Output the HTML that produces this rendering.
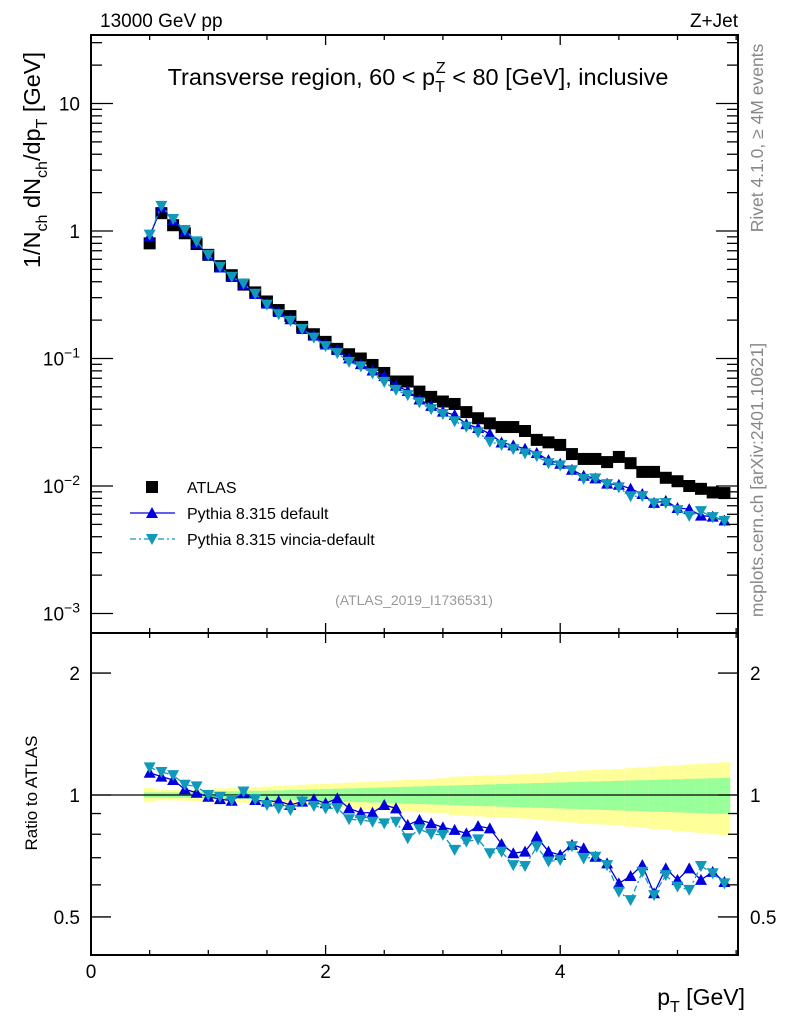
<!DOCTYPE html>
<html><head><meta charset="utf-8"><style>
html,body{margin:0;padding:0;background:#fff;}
svg{display:block;font-family:"Liberation Sans",Arial,sans-serif;}
</style></head><body>
<svg id="c" width="786" height="1024" viewBox="0 0 786 1024" xmlns="http://www.w3.org/2000/svg">
<rect x="0" y="0" width="786" height="1024" fill="#fff"/>
<g id="bands"></g>
<g id="marks"></g>
<g id="axes" stroke="#000" fill="none"></g>
<text x="100" y="27" font-size="19">13000 GeV pp</text>
<text x="738" y="27" font-size="19" text-anchor="end">Z+Jet</text>
<text x="418" y="85" font-size="23.5" text-anchor="middle">Transverse region, 60 &lt; p<tspan font-size="16" dy="7">T</tspan><tspan font-size="16" dx="-9" dy="-19">Z</tspan><tspan dy="12"> &lt; 80 [GeV], inclusive</tspan></text>
<text transform="translate(40,160) rotate(-90)" font-size="23.5" text-anchor="middle">1/N<tspan font-size="16" dy="7">ch</tspan><tspan dy="-7"> dN</tspan><tspan font-size="16" dy="7">ch</tspan><tspan dy="-7">/dp</tspan><tspan font-size="16" dy="7">T</tspan><tspan dy="-7"> [GeV]</tspan></text>
<text transform="translate(763,138) rotate(-90)" font-size="17.5" fill="#888" text-anchor="middle">Rivet 4.1.0, ≥ 4M events</text>
<text transform="translate(763,480) rotate(-90)" font-size="17.5" fill="#888" text-anchor="middle">mcplots.cern.ch [arXiv:2401.10621]</text>
<text x="414" y="605" font-size="14" fill="#999" text-anchor="middle">(ATLAS_2019_I1736531)</text>
<text transform="translate(37,793) rotate(-90)" font-size="17" text-anchor="middle">Ratio to ATLAS</text>
<text x="745" y="1005" font-size="23" text-anchor="end">p<tspan font-size="16" dy="7">T</tspan><tspan dy="-7"> [GeV]</tspan></text>
<g>
<rect x="146" y="481" width="12" height="12" fill="#000"/>
<text x="187" y="493" font-size="16">ATLAS</text>
<line x1="130" y1="513" x2="175" y2="513" stroke="#0000dd" stroke-width="1.3"/>
<polygon points="152,507 158,518 146,518" fill="#0000dd"/>
<text x="187" y="519" font-size="16">Pythia 8.315 default</text>
<line x1="130" y1="539" x2="175" y2="539" stroke="#1199bb" stroke-width="1.3" stroke-dasharray="6,3,2,3"/>
<polygon points="146,534 158,534 152,545" fill="#1199bb"/>
<text x="187" y="545" font-size="16">Pythia 8.315 vincia-default</text>
</g>
</svg>
<script>
const pT = [0.5,0.6,0.7,0.8,0.9,1.0,1.1,1.2,1.3,1.4,1.5,1.6,1.7,1.8,1.9,2.0,2.1,2.2,2.3,2.4,2.5,2.6,2.7,2.8,2.9,3.0,3.1,3.2,3.3,3.4,3.5,3.6,3.7,3.8,3.9,4.0,4.1,4.2,4.3,4.4,4.5,4.6,4.7,4.8,4.9,5.0,5.1,5.2,5.3,5.4];
const atlas = [0.80,1.38,1.11,0.96,0.79,0.65,0.53,0.45,0.38,0.33,0.28,0.24,0.215,0.177,0.155,0.135,0.119,0.108,0.10,0.089,0.077,0.066,0.066,0.055,0.050,0.046,0.044,0.038,0.034,0.031,0.029,0.029,0.027,0.023,0.022,0.021,0.0178,0.0163,0.0163,0.0154,0.0169,0.0151,0.0129,0.0129,0.0116,0.0109,0.0100,0.0095,0.0089,0.0088];
const ratioDefault = [1.135,1.11,1.089,1.033,1.013,0.99,0.977,0.968,1.01,0.972,0.963,0.966,0.945,0.963,0.976,0.954,0.981,0.927,0.904,0.904,0.945,0.927,0.843,0.868,0.851,0.832,0.82,0.804,0.838,0.827,0.757,0.718,0.725,0.789,0.725,0.711,0.753,0.739,0.704,0.678,0.605,0.631,0.671,0.572,0.659,0.617,0.659,0.617,0.646,0.61];
const ratioVincia = [1.17,1.14,1.12,1.06,1.05,1.0,0.99,0.972,1.02,0.976,0.945,0.927,0.918,0.963,0.94,0.927,0.927,0.871,0.868,0.859,0.851,0.859,0.782,0.823,0.801,0.797,0.732,0.767,0.777,0.718,0.725,0.671,0.668,0.745,0.685,0.691,0.747,0.697,0.704,0.671,0.577,0.55,0.646,0.566,0.634,0.594,0.583,0.668,0.641,0.605];
const statErr = [0.015,0.015,0.015,0.016,0.017,0.018,0.02,0.021,0.022,0.024,0.025,0.027,0.029,0.03,0.032,0.034,0.036,0.038,0.04,0.042,0.044,0.046,0.048,0.05,0.052,0.054,0.056,0.058,0.06,0.062,0.064,0.066,0.068,0.07,0.072,0.074,0.076,0.078,0.08,0.082,0.084,0.086,0.088,0.09,0.092,0.094,0.096,0.098,0.1,0.102];
const totErr = [0.04,0.03,0.03,0.032,0.034,0.036,0.038,0.04,0.043,0.046,0.05,0.053,0.056,0.06,0.063,0.066,0.07,0.073,0.076,0.08,0.083,0.086,0.09,0.093,0.096,0.1,0.11,0.112,0.115,0.118,0.12,0.123,0.126,0.13,0.135,0.14,0.145,0.15,0.153,0.156,0.16,0.165,0.17,0.175,0.18,0.185,0.19,0.195,0.2,0.205];
const yTicksMain = [10,1,0.1,0.01,0.001];
const yTickLabelsMain = ["10","1","10^-1","10^-2","10^-3"];
const xTicks = [0,2,4];
const ratioTicks = [2,1,0.5];

const NS="http://www.w3.org/2000/svg";
const X0=91,X1=738,MT=35,MB=633,RB=955;
const sx=v=>X0+v*117.3;
const sy=v=>231-127.5*Math.log10(v);
const sr=v=>795-405*Math.log10(v);
function mk(tag,attrs,parent){const e=document.createElementNS(NS,tag);for(const k in attrs)e.setAttribute(k,attrs[k]);parent.appendChild(e);return e;}
const bands=document.getElementById('bands'),marks=document.getElementById('marks'),axes=document.getElementById('axes'),svg=document.getElementById('c');
const hw=5.86;
pT.forEach((p,i)=>{
  const y=mk('rect',{x:sx(p)-hw,y:sr(1+totErr[i]),width:2*hw,height:sr(1-totErr[i])-sr(1+totErr[i]),fill:'#ffff99'},bands);
  
  
});
pT.forEach((p,i)=>{
  const g=mk('rect',{x:sx(p)-hw,y:sr(1+statErr[i]),width:2*hw,height:sr(1-statErr[i])-sr(1+statErr[i]),fill:'#99ff99'},bands);
  
  
});
const l1=mk('line',{x1:X0,x2:X1,y1:795,y2:795,stroke:'#000','stroke-width':1.3},marks);


function series(vals,col,dash,up,name){
  const pts=pT.map((p,i)=>sx(p)+','+vals[i].y).join(' ');
  const pl=mk('polyline',{points:pts,fill:'none',stroke:col,'stroke-width':1.3},marks);
  if(dash)pl.setAttribute('stroke-dasharray',dash);
  
  
  pT.forEach((p,i)=>{
    const x=sx(p),y=vals[i].y;
    const pts2=up?`${x},${y-6} ${x+6},${y+5} ${x-6},${y+5}`:`${x-6},${y-5} ${x+6},${y-5} ${x},${y+6}`;
    const m=mk('polygon',{points:pts2,fill:col},marks);
    
    
  });
}
pT.forEach((p,i)=>{
  const r=mk('rect',{x:sx(p)-6,y:sy(atlas[i])-6,width:12,height:12,fill:'#000'},marks);
  
  
});
series(pT.map((p,i)=>({y:sy(atlas[i]*ratioDefault[i])})),'#0000dd',null,true,'pythia-default');
series(pT.map((p,i)=>({y:sy(atlas[i]*ratioVincia[i])})),'#1199bb','6,3,2,3',false,'pythia-vincia');
series(pT.map((p,i)=>({y:sr(ratioDefault[i])})),'#0000dd',null,true,'ratio-default');
series(pT.map((p,i)=>({y:sr(ratioVincia[i])})),'#1199bb','6,3,2,3',false,'ratio-vincia');
const f1=mk('rect',{x:X0,y:MT,width:X1-X0,height:MB-MT,'stroke-width':2},axes);


const f2=mk('rect',{x:X0,y:MB,width:X1-X0,height:RB-MB,'stroke-width':2},axes);


for(let d=-3;d<=1;d++){for(let k=1;k<10;k++){const v=k*Math.pow(10,d);const y=sy(v);if(y<MT||y>MB)continue;const L=k==1?22:11;
  mk('line',{x1:X0,x2:X0+L,y1:y,y2:y,'stroke-width':1.3},axes);mk('line',{x1:X1,x2:X1-L,y1:y,y2:y,'stroke-width':1.3},axes);}}
yTicksMain.forEach((v,i)=>{
  const t=mk('text',{x:80,y:sy(v)+7,'font-size':19,'text-anchor':'end',fill:'#000',stroke:'none'},svg);
  const lab=yTickLabelsMain[i];
  if(lab.includes('^')){const [b,e]=lab.split('^');t.textContent=b;const ts=mk('tspan',{'font-size':14,dy:-8},t);ts.textContent=e.replace('-','−');}
  else t.textContent=lab;
  
  
});
[0.5,0.6,0.7,0.8,0.9,1,2].forEach(v=>{const y=sr(v);const L=(v==1||v==2||v==0.5)?20:10;
  mk('line',{x1:X0,x2:X0+L,y1:y,y2:y,'stroke-width':1.3},axes);mk('line',{x1:X1,x2:X1-L,y1:y,y2:y,'stroke-width':1.3},axes);});
ratioTicks.forEach(v=>{
  const t=mk('text',{x:80,y:sr(v)+7,'font-size':19,'text-anchor':'end',fill:'#000',stroke:'none'},svg);t.textContent=String(v);
  
  
  const t2=mk('text',{x:750,y:sr(v)+7,'font-size':19,fill:'#000',stroke:'none'},svg);t2.textContent=String(v);
  
  
});
for(let v=0;v<=5.5;v+=0.5){const x=sx(v);const L=(v%2==0)?10:5;
  [[MB,-1],[MT,1],[RB,-1],[MB,1]].forEach(([y0,s])=>mk('line',{x1:x,x2:x,y1:y0,y2:y0+s*L,'stroke-width':1.3},axes));}
xTicks.forEach(v=>{
  const t=mk('text',{x:sx(v),y:978,'font-size':19,'text-anchor':'middle',fill:'#000',stroke:'none'},svg);t.textContent=String(v);
  
  
});
</script>
</body></html>
